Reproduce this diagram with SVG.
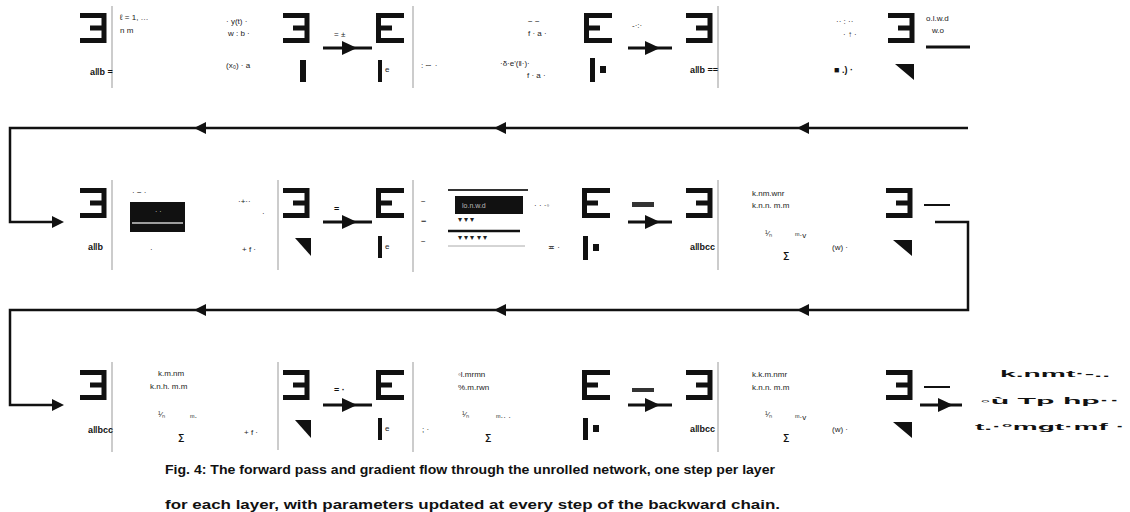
<svg xmlns="http://www.w3.org/2000/svg" width="1130" height="512" viewBox="0 0 1130 512">
<style>
.br{fill:none;stroke:#111;stroke-width:5;stroke-linejoin:miter}
.vl{stroke:#aaa;stroke-width:1.2}
.t{font-family:"Liberation Sans",Arial,sans-serif;font-size:8px;fill:#222}
.tb{font-family:"Liberation Sans",Arial,sans-serif;font-size:9px;font-weight:bold;fill:#111}
.cap{font-family:"Liberation Sans",Arial,sans-serif;font-size:12px;font-weight:bold;fill:#111}
.ln{fill:none;stroke:#111;stroke-width:2.5}
.sa{fill:none;stroke:#111;stroke-width:3}
.hd{fill:#111}
.ul{stroke:#111;stroke-width:3}
</style>
<defs>
<path id="rb" d="M0,2.5 H24 V27.5 H0 M10,15 H24"/>
<path id="lb" d="M28,2.5 H2.5 V27.5 H28 M2.5,15 H16"/>
<marker id="ah" markerWidth="12" markerHeight="12" refX="6" refY="6" orient="auto" markerUnits="userSpaceOnUse">
<path d="M0,0 L12,6 L0,12 Z" fill="#111"/>
</marker>
</defs>
<rect width="1130" height="512" fill="#fff"/>

<g id="connectors">
<line class="ln" x1="968" y1="128" x2="803" y2="128" marker-end="url(#ah)"/>
<line class="ln" x1="803" y1="128" x2="500" y2="128" marker-end="url(#ah)"/>
<line class="ln" x1="500" y1="128" x2="200" y2="128" marker-end="url(#ah)"/>
<polyline class="ln" points="200,128 10,128 10,222 58,222" marker-end="url(#ah)"/>
<polyline class="ln" points="935,222 968,222 968,310 803,310" marker-end="url(#ah)"/>
<line class="ln" x1="803" y1="310" x2="500" y2="310" marker-end="url(#ah)"/>
<line class="ln" x1="500" y1="310" x2="200" y2="310" marker-end="url(#ah)"/>
<polyline class="ln" points="200,310 10,310 10,405 58,405" marker-end="url(#ah)"/>
<line class="sa" x1="323" y1="48" x2="372" y2="48"/><path class="hd" d="M342,41 L357,48 L342,55 Z"/>
<line class="sa" x1="628" y1="48" x2="672" y2="48"/><path class="hd" d="M645,41 L660,48 L645,55 Z"/>
<line class="sa" x1="323" y1="222" x2="372" y2="222"/><path class="hd" d="M342,215 L357,222 L342,229 Z"/>
<line class="sa" x1="628" y1="222" x2="672" y2="222"/><path class="hd" d="M645,215 L660,222 L645,229 Z"/>
<line class="sa" x1="323" y1="405" x2="372" y2="405"/><path class="hd" d="M342,398 L357,405 L342,412 Z"/>
<line class="sa" x1="628" y1="405" x2="672" y2="405"/><path class="hd" d="M645,398 L660,405 L645,412 Z"/>
<line class="sa" x1="920" y1="405" x2="962" y2="405"/><path class="hd" d="M938,398 L953,405 L938,412 Z"/>
</g>

<!-- Row 1 -->
<g id="r1a"><use href="#rb" class="br" x="80" y="13"/><line class="vl" x1="112" y1="6" x2="112" y2="88"/>
<text class="t" x="120" y="20">ℓ = 1, …</text><text class="t" x="120" y="33">n  m</text>
<text class="tb" x="90" y="75">a‖b =</text></g>
<g id="r1b"><text class="t" x="226" y="24">· y(t) ·</text><text class="t" x="228" y="36">w : b ·</text>
<use href="#rb" class="br" x="283" y="13"/>
<text class="t" x="226" y="68">(x₀) · a</text><rect x="300" y="60" width="6" height="22" fill="#111"/></g>
<g id="r1c"><text class="t" x="334" y="37">= ±</text><use href="#lb" class="br" x="376" y="13"/><line class="vl" x1="413" y1="6" x2="413" y2="88"/>
<rect x="378" y="60" width="4" height="22" fill="#111"/><text class="t" x="385" y="72">e</text>
<text class="t" x="421" y="68">: ∼  ·</text></g>
<g id="r1d"><text class="t" x="528" y="24">− −</text><text class="t" x="528" y="36">f · a ·</text>
<use href="#lb" class="br" x="584" y="13"/>
<text class="t" x="500" y="66">·δ·e'(‖·)·</text><text class="t" x="527" y="78">f · a ·</text>
<rect x="590" y="58" width="5" height="24" fill="#111"/><rect x="600" y="66" width="6" height="7" fill="#111"/></g>
<g id="r1e"><text class="t" x="632" y="28">-·:·</text><use href="#rb" class="br" x="686" y="13"/><line class="vl" x1="718" y1="6" x2="718" y2="88"/>
<text class="tb" x="690" y="73">a‖b ==</text></g>
<g id="r1f"><text class="t" x="836" y="24">·· : ··</text><text class="t" x="843" y="37">· ↑ ·</text>
<use href="#rb" class="br" x="888" y="13"/>
<text class="t" x="926" y="21">o.l.w.d</text><text class="t" x="932" y="33">w.o</text><line class="ul" x1="926" y1="47" x2="970" y2="47"/>
<text class="tb" x="834" y="73">■ .) ·</text><path class="hd" d="M895,64 H914 V80 Z"/></g>

<!-- Row 2 -->
<g id="r2a"><use href="#rb" class="br" x="80" y="188"/><line class="vl" x1="112" y1="180" x2="112" y2="270"/>
<text class="t" x="132" y="195">· − ·</text>
<rect x="130" y="202" width="55" height="30" fill="#111"/><text x="155" y="214" font-family="Liberation Sans,sans-serif" font-size="7" fill="#ddd">· ·</text>
<line x1="132" y1="223" x2="183" y2="223" stroke="#ccc" stroke-width="1.5"/>
<text class="tb" x="88" y="250">a‖b</text><text class="t" x="150" y="252">·</text></g>
<g id="r2b"><text class="t" x="238" y="204">·+··</text><text class="t" x="262" y="216">·</text>
<use href="#rb" class="br" x="283" y="188"/><line class="vl" x1="278" y1="180" x2="278" y2="270"/>
<text class="t" x="242" y="252">+ f ·</text><path class="hd" d="M295,238 H311 V256 Z"/></g>
<g id="r2c"><text class="tb" x="334" y="212">=</text><use href="#lb" class="br" x="376" y="188"/><line class="vl" x1="413" y1="180" x2="413" y2="272"/>
<rect x="378" y="236" width="4" height="22" fill="#111"/><text class="t" x="385" y="249">e</text>
<text class="t" x="421" y="204">−</text><text class="tb" x="421" y="224">−</text><text class="t" x="421" y="244">−</text></g>
<g id="r2d"><line x1="448" y1="190" x2="528" y2="190" stroke="#333" stroke-width="2"/>
<rect x="455" y="196" width="68" height="18" fill="#111"/><text x="462" y="208" font-family="Liberation Sans,sans-serif" font-size="7" fill="#bbb">lo.n.w.d</text>
<text class="t" x="458" y="222">▾ ▾ ▾</text>
<line x1="448" y1="231" x2="520" y2="231" stroke="#111" stroke-width="2.5"/><text class="t" x="458" y="240">▾ ▾ ▾ ▾ ▾</text>
<line x1="448" y1="246" x2="525" y2="246" stroke="#aaa" stroke-width="1"/>
<text class="t" x="534" y="208">· · ·◦</text><use href="#lb" class="br" x="582" y="188"/>
<text class="t" x="548" y="250">≖ ·</text><rect x="583" y="236" width="5" height="24" fill="#111"/><rect x="593" y="244" width="6" height="7" fill="#111"/></g>
<g id="r2e"><rect x="632" y="202" width="22" height="5" fill="#333"/><use href="#rb" class="br" x="686" y="188"/><line class="vl" x1="718" y1="180" x2="718" y2="270"/>
<text class="tb" x="690" y="250">a‖bcc</text></g>
<g id="r2f"><text class="t" x="752" y="196">k.nm.wnr</text><text class="t" x="752" y="208">k.n.n. m.m</text>
<text class="t" x="765" y="236">¹⁄ₙ</text><text class="tb" x="783" y="258" font-size="14">∑</text><text class="t" x="795" y="238">ᵐ·v</text>
<text class="t" x="832" y="250">(w) ·</text>
<use href="#rb" class="br" x="886" y="188"/><line x1="924" y1="205" x2="950" y2="205" stroke="#111" stroke-width="2"/>
<path class="hd" d="M893,240 H912 V256 Z"/></g>

<!-- Row 3 -->
<g id="r3a"><use href="#rb" class="br" x="80" y="370"/><line class="vl" x1="112" y1="362" x2="112" y2="452"/>
<text class="tb" x="88" y="433">a‖bcc</text>
<text class="t" x="158" y="376">k.m.nm</text><text class="t" x="150" y="389">k.n.h. m.m</text>
<text class="t" x="158" y="417">¹⁄ₙ</text><text class="tb" x="178" y="440" font-size="14">∑</text><text class="t" x="190" y="420">ᵐ·</text></g>
<g id="r3b"><use href="#rb" class="br" x="283" y="370"/><line class="vl" x1="278" y1="362" x2="278" y2="450"/>
<text class="t" x="244" y="435">+ f ·</text><path class="hd" d="M295,420 H311 V438 Z"/></g>
<g id="r3c"><text class="tb" x="334" y="393">= ·</text><use href="#lb" class="br" x="376" y="370"/><line class="vl" x1="413" y1="362" x2="413" y2="452"/>
<rect x="378" y="418" width="4" height="22" fill="#111"/><text class="t" x="385" y="431">e</text><text class="t" x="422" y="432">;  ·</text></g>
<g id="r3d"><text class="t" x="458" y="377">◦l.mrmn</text><text class="t" x="458" y="390">%.m.rwn</text>
<text class="t" x="462" y="417">¹⁄ₙ</text><text class="tb" x="485" y="440" font-size="14">∑</text><text class="t" x="496" y="420">ᵐ·· ·</text>
<use href="#lb" class="br" x="582" y="370"/><rect x="583" y="418" width="5" height="22" fill="#111"/><rect x="593" y="425" width="6" height="7" fill="#111"/></g>
<g id="r3e"><rect x="632" y="388" width="22" height="4" fill="#333"/><use href="#rb" class="br" x="686" y="370"/><line class="vl" x1="718" y1="362" x2="718" y2="452"/>
<text class="tb" x="690" y="432">a‖bcc</text></g>
<g id="r3f"><text class="t" x="752" y="377">k.k.m.nmr</text><text class="t" x="752" y="390">k.n.n. m.m</text>
<text class="t" x="765" y="417">¹⁄ₙ</text><text class="tb" x="783" y="440" font-size="14">∑</text><text class="t" x="795" y="420">ᵐ·v</text>
<text class="t" x="832" y="432">(w) ·</text>
<use href="#rb" class="br" x="886" y="370"/><line x1="924" y1="387" x2="950" y2="387" stroke="#111" stroke-width="2"/>
<path class="hd" d="M893,422 H912 V438 Z"/></g>
<g id="r3g"><text class="tb" x="1000" y="377" textLength="110" lengthAdjust="spacingAndGlyphs">k.nmt·‑..</text>
<text class="tb" x="980" y="404" textLength="140" lengthAdjust="spacingAndGlyphs">◦ù Tp hp··</text>
<text class="tb" x="975" y="430" textLength="150" lengthAdjust="spacingAndGlyphs">t.·°mgt·mf ·</text></g>

<!-- caption -->
<g id="caption"><text class="cap" x="165" y="474" textLength="610" lengthAdjust="spacingAndGlyphs">Fig. 4: The forward pass and gradient flow through the unrolled network, one step per layer</text>
<text class="cap" x="165" y="509" textLength="615" lengthAdjust="spacingAndGlyphs">for each layer, with parameters updated at every step of the backward chain.</text></g>
</svg>
